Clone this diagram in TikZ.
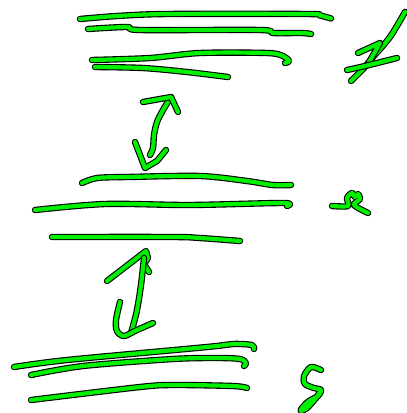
\documentclass[tikz,border=0pt]{standalone}
\definecolor{inkgreen}{RGB}{0,240,0}
\tikzset{
  pen/.style={line width=6.4pt, draw=black, line cap=round, line join=round,
    postaction={draw=inkgreen, line width=4.2pt}},
}
\begin{document}
\begin{tikzpicture}[x=1pt, y=-1pt]
    \useasboundingbox (0,0) rectangle (407,413);

    % Top group of lines
    \draw[pen] plot[smooth] coordinates {(80,19) (117,16) (167,14) (307,14) (320,15.5) (331,18.5)};
    \draw[pen] plot[smooth] coordinates {(88,29) (127,27) (140,30) (260,30) (273,33) (302,33) (311,34)};
    \draw[pen] plot[smooth] coordinates {(92,60) (150,58) (200,53) (267,53) (283,56) (289,61) (285,63)};
    \draw[pen] plot[smooth] coordinates {(95,67) (143,68) (187,72) (228,77)};

    % Symbol top right
    \draw[pen] plot[smooth] coordinates {(405,12) (390,37) (373,57) (364,68) (351,81)};
    \draw[pen] (358,53) -- (380,43) -- (368,64);
    \draw[pen] plot[smooth] coordinates {(347,70) (365,66) (397,58)};

    % Upper double arrow
    \draw[pen] plot[smooth] coordinates {(171,97) (163,110) (157,122) (154,135) (153,148) (150,155)};
    \draw[pen] (143,102) -- (171,97) -- (178,112);
    \draw[pen] (135,142) -- (145,168) -- (157,161) -- (166,150);

    % Middle group of lines
    \draw[pen] plot[smooth] coordinates {(82,183) (97,178) (127,177) (200,176) (247,181) (273,185) (291,185)};
    \draw[pen] plot[smooth] coordinates {(35,210) (105,204) (190,205) (283,203) (287,206)};
    \draw[pen] plot[smooth] coordinates {(52,237) (173,237) (200,238) (240,241)};

    % Symbol middle right
    \draw[pen] plot[smooth] coordinates {(332,206) (348,206) (347,198) (352,193) (355,197) (358,194) (360,199) (354,205) (368,213)};

    % Lower double arrow
    \draw[pen] (107,281) -- (146,251) -- (148,258) -- (144,264) -- (149,272);
    \draw[pen] plot[smooth] coordinates {(144,258) (141,285) (137,310) (133,326) (131,333)};
    \draw[pen] plot[smooth] coordinates {(120,302) (116,320) (117,331) (124,336) (137,330) (153,323)};

    % Bottom group of lines
    \draw[pen] plot[smooth] coordinates {(14,367) (67,360) (207,347) (233,344) (252,345) (254,349)};
    \draw[pen] plot[smooth] coordinates {(31,375) (83,366) (173,359) (217,358) (240,359) (246,363) (244,366)};
    \draw[pen] plot[smooth] coordinates {(31,400) (140,387) (173,385) (233,386) (247,388)};

    % Symbol bottom right
    \draw[pen] plot[smooth] coordinates {(321,370) (311,367) (304,376) (305,384) (314,388) (321,390) (318,396) (309,401) (302,408) (301,411) (307,408) (316,398) (321,390)};
\end{tikzpicture}
\end{document}
